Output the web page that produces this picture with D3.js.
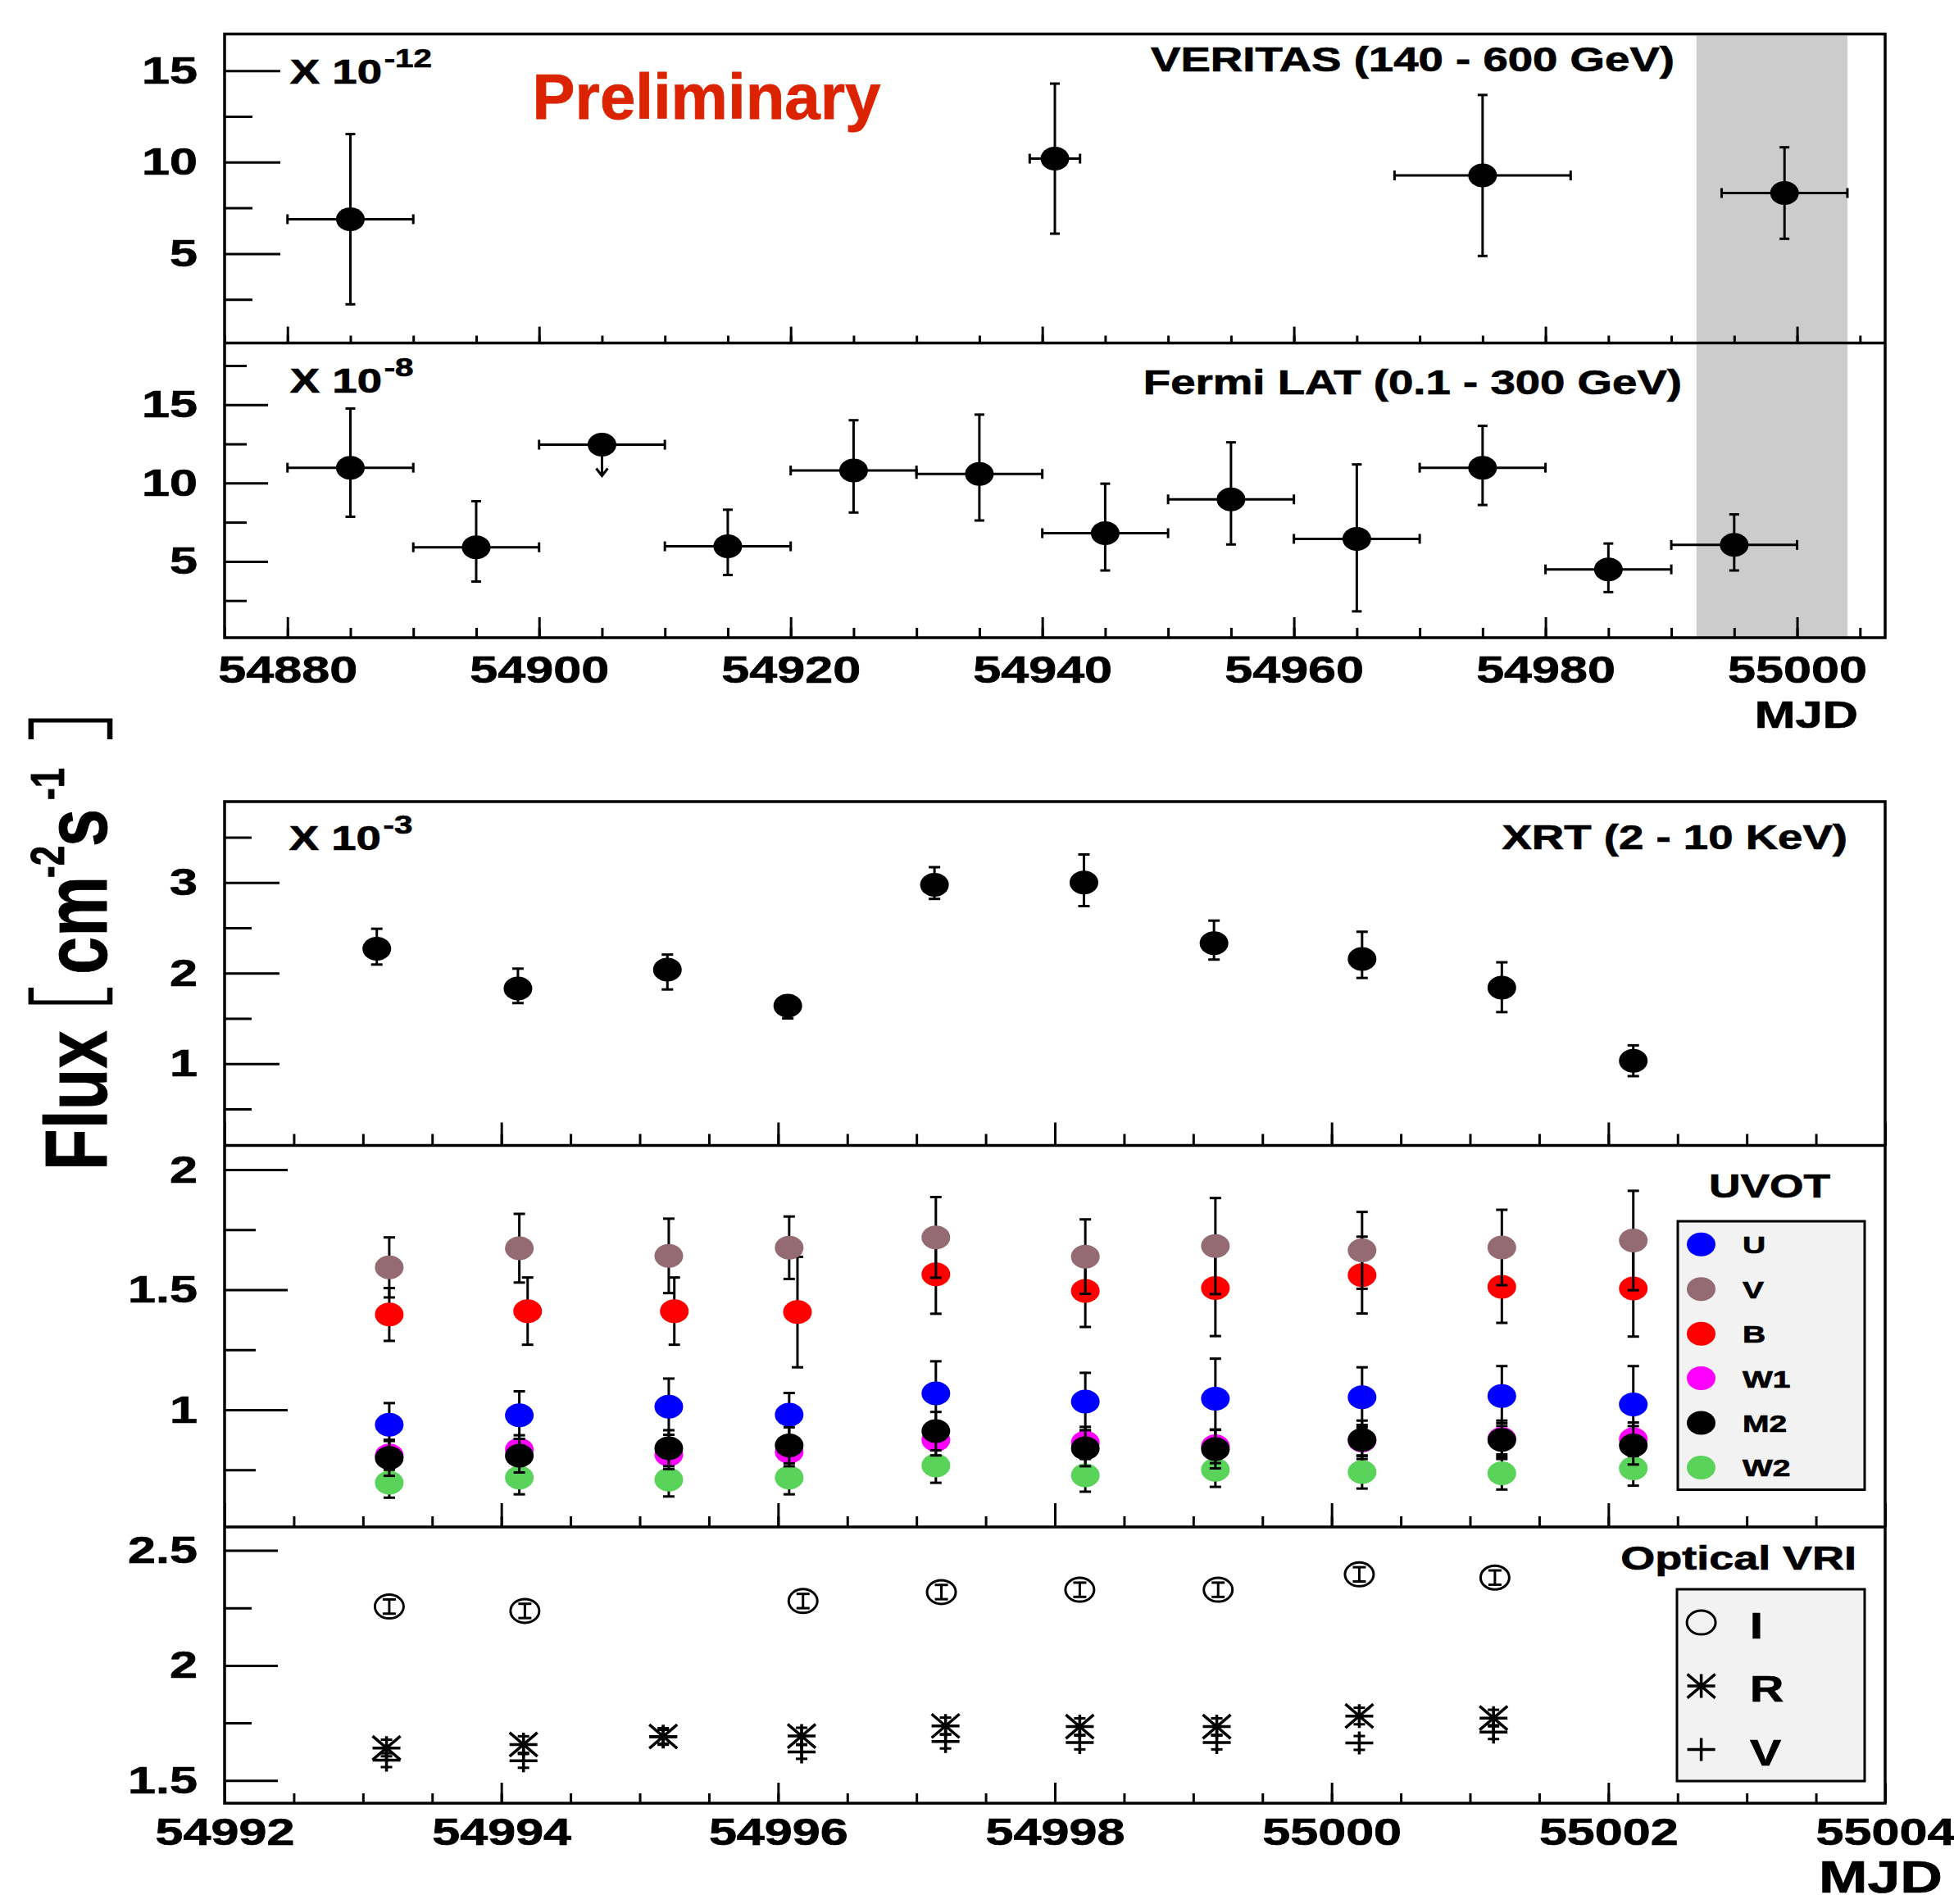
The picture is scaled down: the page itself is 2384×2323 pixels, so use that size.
<!DOCTYPE html>
<html><head><meta charset="utf-8">
<script src="https://cdn.jsdelivr.net/npm/d3@7"></script>
<style>
html,body{margin:0;padding:0;background:#fff;}
svg text{font-family:"Liberation Sans",Arial,Helvetica,sans-serif;font-weight:bold;}
svg text.heavy{stroke:#000;stroke-width:0.7px;}
</style></head><body>
<svg id="chart" width="2384" height="2323"></svg>
<script>
// ================= DATA =================
const topMJDRange = [54875, 55007];
const bottomMJDRange = [54992, 55004];
const grayBandMJD = [54992, 55004];

// VERITAS (140 - 600 GeV), x 10^-12
const veritasMJD = [54885, 54941, 54975, 54999];
const veritasMJDErr = [5, 2, 7, 5];
const veritasFlux = [6.88, 10.19, 9.27, 8.31];
const veritasFluxErr = [4.65, 4.10, 4.40, 2.50];

// Fermi LAT (0.1 - 300 GeV), x 10^-8
const fermiMJD = [54885, 54895, 54905, 54915, 54925, 54935, 54945, 54955, 54965, 54975, 54985, 54995];
const fermiMJDErr = [5, 5, 5, 5, 5, 5, 5, 5, 5, 5, 5, 5];
const fermiFlux = [10.98, 5.90, 12.45, 5.96, 10.80, 10.58, 6.80, 8.96, 6.44, 10.98, 4.49, 6.05];
const fermiErrHi = [3.78, 2.94, 0, 2.34, 3.21, 3.79, 3.16, 3.64, 4.75, 2.67, 1.65, 1.95];
const fermiErrLo = [3.13, 2.19, 0, 1.83, 2.68, 2.97, 2.38, 2.88, 4.63, 2.38, 1.45, 1.63];
const fermiUpperLimit = [false, false, true, false, false, false, false, false, false, false, false, false];

// XRT (2 - 10 KeV), x 10^-3
const xrtMJD = [54993.10, 54994.12, 54995.20, 54996.07, 54997.13, 54998.21, 54999.15, 55000.22, 55001.23, 55002.18];
const xrtFlux = [2.27, 1.83, 2.04, 1.64, 2.975, 3.00, 2.33, 2.157, 1.84, 1.033];
const xrtErrHi = [0.22, 0.22, 0.165, 0.10, 0.195, 0.31, 0.25, 0.30, 0.28, 0.17];
const xrtErrLo = [0.175, 0.16, 0.22, 0.14, 0.155, 0.26, 0.18, 0.21, 0.27, 0.17];

// UVOT
const uvotMJD  = [54993.19, 54994.13, 54995.21, 54996.08, 54997.14, 54998.22, 54999.16, 55000.22, 55001.23, 55002.18];
const uvotMJDB = [54993.19, 54994.19, 54995.25, 54996.14, 54997.14, 54998.22, 54999.16, 55000.22, 55001.23, 55002.18];
const uvotU  = [0.938, 0.977, 1.013, 0.980, 1.068, 1.034, 1.046, 1.052, 1.057, 1.022];
const uvotUErr  = [0.09, 0.10, 0.117, 0.09, 0.134, 0.12, 0.167, 0.125, 0.125, 0.16];
const uvotV  = [1.593, 1.673, 1.641, 1.675, 1.718, 1.638, 1.682, 1.664, 1.676, 1.705];
const uvotVErr  = [0.125, 0.143, 0.155, 0.13, 0.168, 0.155, 0.20, 0.16, 0.157, 0.207];
const uvotB  = [1.397, 1.411, 1.411, 1.407, 1.564, 1.495, 1.507, 1.561, 1.512, 1.505];
const uvotBErr  = [0.11, 0.14, 0.14, 0.23, 0.164, 0.15, 0.20, 0.16, 0.15, 0.20];
const uvotW1 = [0.81, 0.834, 0.813, 0.825, 0.875, 0.864, 0.848, 0.872, 0.879, 0.877];
const uvotW1Err = [0.06, 0.06, 0.06, 0.06, 0.065, 0.065, 0.07, 0.065, 0.065, 0.07];
const uvotM2 = [0.80, 0.809, 0.840, 0.852, 0.911, 0.840, 0.836, 0.875, 0.875, 0.852];
const uvotM2Err = [0.075, 0.07, 0.075, 0.075, 0.08, 0.075, 0.08, 0.08, 0.08, 0.08];
const uvotW2 = [0.696, 0.718, 0.709, 0.718, 0.768, 0.727, 0.750, 0.741, 0.736, 0.756];
const uvotW2Err = [0.062, 0.07, 0.07, 0.07, 0.072, 0.068, 0.071, 0.069, 0.068, 0.072];
const uvotLegendOrder = ["U", "V", "B", "W1", "M2", "W2"];

// Optical VRI
const optIMJD = [54993.19, 54994.17, 54996.18, 54997.18, 54998.18, 54999.18, 55000.20, 55001.18];
const optI    = [2.256, 2.237, 2.280, 2.319, 2.329, 2.329, 2.396, 2.382];
const optIErr = [0.031, 0.031, 0.031, 0.031, 0.031, 0.031, 0.031, 0.031];
const optRMJD = [54993.17, 54994.16, 54995.17, 54996.17, 54997.21, 54998.18, 54999.17, 55000.20, 55001.17];
const optR    = [1.641, 1.656, 1.691, 1.693, 1.737, 1.734, 1.734, 1.780, 1.771];
const optRErr = [0.036, 0.036, 0.036, 0.036, 0.036, 0.036, 0.036, 0.036, 0.036];
const optVMJD = [54993.17, 54994.16, 54995.17, 54996.17, 54997.21, 54998.18, 54999.17, 55000.20, 55001.17];
const optV    = [1.588, 1.585, 1.690, 1.624, 1.669, 1.665, 1.665, 1.663, 1.710];
const optVErr = [0.03, 0.03, 0.03, 0.03, 0.03, 0.03, 0.03, 0.03, 0.03];
const optLegend = ["I", "R", "V"];

// axis ticks
const topXMajor = [54880, 54900, 54920, 54940, 54960, 54980, 55000];
const bottomXMajor = [54992, 54994, 54996, 54998, 55000, 55002, 55004];
const veritasYMajor = [5, 10, 15], veritasYMinor = [2.5, 7.5, 12.5];
const fermiYMajor = [5, 10, 15], fermiYMinor = [2.5, 7.5, 12.5, 17.5];
const xrtYMajor = [1, 2, 3], xrtYMinor = [0.5, 1.5, 2.5, 3.5];
const uvotYMajor = [1, 1.5, 2], uvotYMinor = [0.75, 1.25, 1.75];
const optYMajor = [1.5, 2, 2.5], optYMinor = [1.75, 2.25];

// ================= STYLE / LAYOUT =================
const SX = 1.3;                // horizontal stretch of original figure
const L = 274, R = 2300;
const uvotColors = {U: "#0000ff", V: "#946a73", B: "#ff0000", W1: "#ff00ff", M2: "#000000", W2: "#5ad35a"};
const RX = 17.5, RY = 14.5, CAP = 7, LW = 3;

const svg = d3.select("#chart");
svg.append("rect").attr("width", 2384).attr("height", 2323).attr("fill", "#fff");

const xTop = d3.scaleLinear().domain(topMJDRange).range([L, R]);
const xBot = d3.scaleLinear().domain(bottomMJDRange).range([L, R]);

const P = {
  veritas: {top: 41.5, bottom: 418.5, domain: [0.114, 17], maj: veritasYMajor, min: veritasYMinor, yMaj: 68, yMin: 34, xMaj: 20, xMin: 9},
  fermi:   {top: 418.5, bottom: 778, domain: [0.13, 18.94], maj: fermiYMajor, min: fermiYMinor, yMaj: 53, yMin: 27, xMaj: 25, xMin: 12},
  xrt:     {top: 978, bottom: 1397.5, domain: [0.098, 3.894], maj: xrtYMajor, min: xrtYMinor, yMaj: 67, yMin: 33, xMaj: 28, xMin: 14},
  uvot:    {top: 1397.5, bottom: 1863, domain: [0.512, 2.101], maj: uvotYMajor, min: uvotYMinor, yMaj: 77, yMin: 38, xMaj: 29, xMin: 13},
  opt:     {top: 1863, bottom: 2200, domain: [1.401, 2.602], maj: optYMajor, min: optYMinor, yMaj: 65, yMin: 33, xMaj: 25, xMin: 12}
};
for (const k in P) P[k].y = d3.scaleLinear().domain(P[k].domain).range([P[k].bottom, P[k].top]);

function stext(parent, x, y, str, size, anchor, fill) {
  return parent.append("text").attr("class", "heavy")
    .attr("transform", `translate(${x},${y}) scale(${SX},1)`)
    .attr("font-size", size).attr("text-anchor", anchor || "start")
    .attr("fill", fill || "#000").text(str);
}

// gray band in top section
["veritas", "fermi"].forEach(k => {
  svg.append("rect")
    .attr("x", xTop(grayBandMJD[0])).attr("width", xTop(grayBandMJD[1]) - xTop(grayBandMJD[0]))
    .attr("y", P[k].top + 2).attr("height", P[k].bottom - P[k].top - 3)
    .attr("fill", "#cccccc");
});

// axes
function yAxis(p) {
  const g1 = svg.append("g").attr("transform", `translate(${L},0)`)
    .call(d3.axisLeft(p.y).tickValues(p.min).tickSize(-p.yMin).tickFormat(""));
  const g2 = svg.append("g").attr("transform", `translate(${L},0)`)
    .call(d3.axisLeft(p.y).tickValues(p.maj).tickSize(-p.yMaj).tickPadding(25.5).tickFormat(d => String(d)));
  [g1, g2].forEach(g => { g.select(".domain").remove(); g.selectAll("line").attr("stroke", "#000").attr("stroke-width", LW); });
  g2.selectAll("text").attr("class", "heavy").attr("font-size", 47).attr("fill", "#000").attr("transform", `scale(${SX},1)`);
}
function xAxis(p, x, majors, minorStep, labels, pad) {
  const d = x.domain();
  const minors = d3.range(d[0], d[1] + 1e-9, minorStep);
  const g1 = svg.append("g").attr("transform", `translate(0,${p.bottom})`)
    .call(d3.axisBottom(x).tickValues(minors).tickSize(-p.xMin).tickFormat(""));
  const g2 = svg.append("g").attr("transform", `translate(0,${p.bottom})`)
    .call(d3.axisBottom(x).tickValues(majors).tickSize(-p.xMaj).tickPadding(pad || 20)
      .tickFormat(labels ? d3.format("d") : ""));
  [g1, g2].forEach(g => { g.select(".domain").remove(); g.selectAll("line").attr("stroke", "#000").attr("stroke-width", LW); });
  g2.selectAll("text").attr("class", "heavy").attr("font-size", 47).attr("fill", "#000").attr("transform", `scale(${SX},1)`);
}

Object.values(P).forEach(yAxis);
xAxis(P.veritas, xTop, topXMajor, 5, false);
xAxis(P.fermi, xTop, topXMajor, 5, true, 22);
xAxis(P.xrt, xBot, bottomXMajor, 0.5, false);
xAxis(P.uvot, xBot, bottomXMajor, 0.5, false);
xAxis(P.opt, xBot, bottomXMajor, 0.5, true, 17.5);

// frames
function frame(top, bottom, seps) {
  svg.append("rect").attr("x", L).attr("y", top).attr("width", R - L).attr("height", bottom - top)
    .attr("fill", "none").attr("stroke", "#000").attr("stroke-width", 3.5);
  seps.forEach(s => svg.append("line").attr("x1", L).attr("x2", R).attr("y1", s).attr("y2", s)
    .attr("stroke", "#000").attr("stroke-width", 3.5));
}
frame(P.veritas.top, P.fermi.bottom, [P.veritas.bottom]);
frame(P.xrt.top, P.opt.bottom, [P.xrt.bottom, P.uvot.bottom]);

// error bar helpers
function vErr(g, cx, y1, y2, cap, color) {
  g.append("line").attr("x1", cx).attr("x2", cx).attr("y1", y1).attr("y2", y2).attr("stroke", color || "#000").attr("stroke-width", LW);
  [y1, y2].forEach(yy => g.append("line").attr("x1", cx - cap).attr("x2", cx + cap).attr("y1", yy).attr("y2", yy)
    .attr("stroke", color || "#000").attr("stroke-width", LW));
}
function hErr(g, cy, x1, x2, cap) {
  g.append("line").attr("x1", x1).attr("x2", x2).attr("y1", cy).attr("y2", cy).attr("stroke", "#000").attr("stroke-width", LW);
  [x1, x2].forEach(xx => g.append("line").attr("x1", xx).attr("x2", xx).attr("y1", cy - cap).attr("y2", cy + cap)
    .attr("stroke", "#000").attr("stroke-width", LW));
}
function dot(g, cx, cy, color) {
  g.append("ellipse").attr("cx", cx).attr("cy", cy).attr("rx", RX).attr("ry", RY).attr("fill", color || "#000");
}

// VERITAS
const gV = svg.append("g");
veritasMJD.forEach((m, i) => {
  const cx = xTop(m), cy = P.veritas.y(veritasFlux[i]);
  hErr(gV, cy, xTop(m - veritasMJDErr[i]), xTop(m + veritasMJDErr[i]), 6);
  vErr(gV, cx, P.veritas.y(veritasFlux[i] + veritasFluxErr[i]), P.veritas.y(veritasFlux[i] - veritasFluxErr[i]), 6);
  dot(gV, cx, cy);
});

// Fermi
const gF = svg.append("g");
fermiMJD.forEach((m, i) => {
  const cx = xTop(m), cy = P.fermi.y(fermiFlux[i]);
  hErr(gF, cy, xTop(m - fermiMJDErr[i]), xTop(m + fermiMJDErr[i]), 6);
  if (fermiUpperLimit[i]) {
    gF.append("line").attr("x1", cx).attr("x2", cx).attr("y1", cy).attr("y2", cy + 38).attr("stroke", "#000").attr("stroke-width", LW);
    gF.append("path").attr("d", `M${cx - 7},${cy + 29}L${cx},${cy + 38}L${cx + 7},${cy + 29}`)
      .attr("fill", "none").attr("stroke", "#000").attr("stroke-width", LW);
  } else {
    vErr(gF, cx, P.fermi.y(fermiFlux[i] + fermiErrHi[i]), P.fermi.y(fermiFlux[i] - fermiErrLo[i]), 6);
  }
  dot(gF, cx, cy);
});

// XRT
const gX = svg.append("g");
xrtMJD.forEach((m, i) => {
  const cx = xBot(m);
  vErr(gX, cx, P.xrt.y(xrtFlux[i] + xrtErrHi[i]), P.xrt.y(xrtFlux[i] - xrtErrLo[i]), CAP);
  dot(gX, cx, P.xrt.y(xrtFlux[i]));
});

// UVOT
const uvotSeries = {
  U: {x: uvotMJD, v: uvotU, e: uvotUErr},
  V: {x: uvotMJD, v: uvotV, e: uvotVErr},
  B: {x: uvotMJDB, v: uvotB, e: uvotBErr},
  W1: {x: uvotMJD, v: uvotW1, e: uvotW1Err},
  M2: {x: uvotMJD, v: uvotM2, e: uvotM2Err},
  W2: {x: uvotMJD, v: uvotW2, e: uvotW2Err}
};
const gU = svg.append("g");
["U", "B", "V", "W2", "W1", "M2"].forEach(k => {
  const s = uvotSeries[k];
  s.x.forEach((m, i) => {
    const cx = xBot(m);
    vErr(gU, cx, P.uvot.y(s.v[i] + s.e[i]), P.uvot.y(s.v[i] - s.e[i]), CAP);
    dot(gU, cx, P.uvot.y(s.v[i]), uvotColors[k]);
  });
});

// Optical
function asterisk(g, cx, cy) {
  const a = 17, b = 14.5;
  g.append("path").attr("d", `M${cx - a},${cy}H${cx + a}M${cx},${cy - b}V${cy + b}M${cx - a},${cy - b}L${cx + a},${cy + b}M${cx - a},${cy + b}L${cx + a},${cy - b}`)
    .attr("stroke", "#000").attr("stroke-width", 3.5).attr("fill", "none");
}
function plus(g, cx, cy) {
  g.append("path").attr("d", `M${cx - 17},${cy}H${cx + 17}M${cx},${cy - 14}V${cy + 14}`)
    .attr("stroke", "#000").attr("stroke-width", 3.5).attr("fill", "none");
}
function ring(g, cx, cy) {
  g.append("ellipse").attr("cx", cx).attr("cy", cy).attr("rx", 17.5).attr("ry", 14.5)
    .attr("fill", "none").attr("stroke", "#000").attr("stroke-width", 3);
}
const gO = svg.append("g");
optIMJD.forEach((m, i) => {
  const cx = xBot(m);
  vErr(gO, cx, P.opt.y(optI[i] + optIErr[i]), P.opt.y(optI[i] - optIErr[i]), 8);
  ring(gO, cx, P.opt.y(optI[i]));
});
optVMJD.forEach((m, i) => {
  const cx = xBot(m);
  vErr(gO, cx, P.opt.y(optV[i] + optVErr[i]), P.opt.y(optV[i] - optVErr[i]), 7);
  plus(gO, cx, P.opt.y(optV[i]));
});
optRMJD.forEach((m, i) => {
  const cx = xBot(m);
  vErr(gO, cx, P.opt.y(optR[i] + optRErr[i]), P.opt.y(optR[i] - optRErr[i]), 7);
  asterisk(gO, cx, P.opt.y(optR[i]));
});

// ================= TEXT =================
function expLabel(x, y, exp) {
  const t = stext(svg, x, y, "X 10", 42);
  t.append("tspan").attr("font-size", 31).attr("dx", 2).attr("dy", -20).text(exp);
}
expLabel(353.8, 102.2, "-12");
expLabel(353.8, 479.3, "-8");
expLabel(352.7, 1036.6, "-3");

svg.append("text").attr("x", 649.5).attr("y", 145.2).attr("font-size", 78)
  .attr("fill", "#dc2300").attr("stroke", "#dc2300").attr("stroke-width", 0.8).text("Preliminary");

stext(svg, 2043, 87.3, "VERITAS (140 - 600 GeV)", 42, "end");
stext(svg, 2052, 480.5, "Fermi LAT (0.1 - 300 GeV)", 42, "end");
stext(svg, 2254, 1035.7, "XRT (2 - 10 KeV)", 42, "end");
stext(svg, 2233, 1461, "UVOT", 41, "end");
stext(svg, 2265, 1915, "Optical VRI", 41.5, "end");
stext(svg, 2267, 887.5, "MJD", 46, "end");
stext(svg, 2370, 2309, "MJD", 55, "end");

// UVOT legend
svg.append("rect").attr("x", 2047).attr("y", 1490).attr("width", 228).attr("height", 327.5)
  .attr("fill", "#f2f2f2").attr("stroke", "#000").attr("stroke-width", 3);
const legY = d3.scalePoint().domain(uvotLegendOrder).range([1518.3, 1790.4]);
uvotLegendOrder.forEach(k => {
  dot(svg, 2075.5, legY(k), uvotColors[k]);
  stext(svg, 2126, legY(k) + 11, k, 30);
});

// Optical legend
svg.append("rect").attr("x", 2046).attr("y", 1939).attr("width", 229).attr("height", 234)
  .attr("fill", "#f2f2f2").attr("stroke", "#000").attr("stroke-width", 3);
const optLegY = d3.scalePoint().domain(optLegend).range([1979.6, 2134.6]);
const lg = svg.append("g");
ring(lg, 2075.6, optLegY("I"));
asterisk(lg, 2075.6, optLegY("R"));
plus(lg, 2075.6, optLegY("V"));
optLegend.forEach(k => stext(svg, 2135, optLegY(k) + 19, k, 44));

// Y title "Flux [ cm-2s-1 ]"
const fg = svg.append("g").attr("transform", `translate(129.5,1428) scale(${SX},1) rotate(-90)`);
fg.append("text").attr("class", "heavy").attr("x", 0).attr("y", 0).attr("font-size", 83).attr("fill", "#000").text("Flux");
const t2 = fg.append("text").attr("class", "heavy").attr("y", 0).attr("font-size", 83).attr("fill", "#000");
t2.append("tspan").attr("x", 239).text("cm");
t2.append("tspan").attr("x", 357).attr("dy", -40).attr("font-size", 44).text("-2");
t2.append("tspan").attr("x", 395).attr("dy", 40).text("s");
t2.append("tspan").attr("x", 452).attr("dy", -40).attr("font-size", 44).text("-1");
fg.append("path").attr("d", "M223,-70.5H205V3.5H223").attr("fill", "none").attr("stroke", "#000").attr("stroke-width", 5);
fg.append("path").attr("d", "M526,-70.5H549V3.5H526").attr("fill", "none").attr("stroke", "#000").attr("stroke-width", 5);
</script>
</body></html>
